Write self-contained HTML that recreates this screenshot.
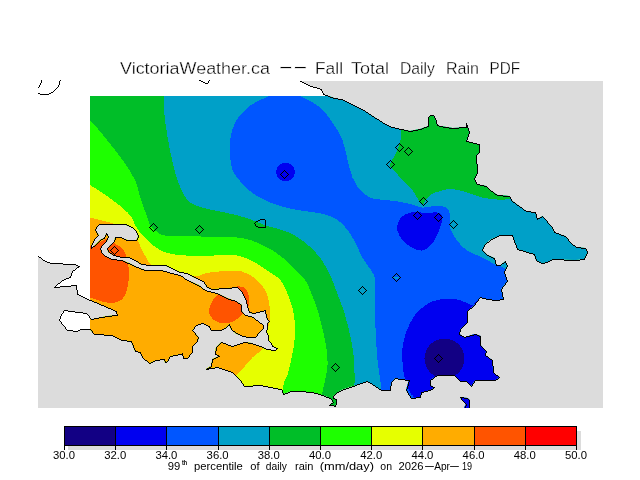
<!DOCTYPE html>
<html lang="en"><head><meta charset="utf-8"><title>VictoriaWeather.ca -- Fall Total Daily Rain PDF</title>
<style>
html,body{margin:0;padding:0;background:#fff;}
body{width:640px;height:480px;overflow:hidden;position:relative;font-family:"Liberation Sans",sans-serif;}
</style></head><body>
<svg width="640" height="480" viewBox="0 0 640 480" shape-rendering="crispEdges" style="position:absolute;left:0;top:0">
<defs><clipPath id="landclip"><polygon points="299,80 308,85.6 321,89.5 323.4,94 334.4,98 342,99.7 350,103.6 365,111 385,124 392,127.5 410,131 420,129 428.8,126 428.8,117.5 430.5,115.2 433,115.5 435,118.8 437,125.5 440,126 452.5,128 466,127.5 466,123 469,132.5 466,141 479,144.5 479.5,152.5 476,155 477.5,172.5 474,179 477.5,184.5 486,186 490,190 497.5,195 509,196 512.5,201 526,211 535,212.5 537.5,219 542.5,216 551,226 554,232.5 565,236 570,242.5 576,247 585,248 587.5,252 584,259 575,260 552.5,259 547.5,262.5 541,263 536,260 534,254 517.5,249 512.5,235 500,235.5 491,239 485,244 482.5,250 487.5,255 494.5,258 496,265 500,265.5 505.5,261 507,266 504,272.5 507,281 501,289 503,299.5 495,300.5 487.5,299 480,297.5 474,305 467.5,311 467.5,322.5 460,329 459.5,334 464,337.5 475,334 480.5,336 480.5,345 486,351 485,355 492,360 493,372.5 499,377.5 495,380 475,380 471,386 466,381 460,381 454,375 437.5,375 430,380 430,385 434,387.5 430,390 421,392.5 420,397.5 411,398 406,390 409,380 400,379 395,378 391,382.5 390,390 381,390 375,386.2 367.5,381.2 358.8,384.4 350,387 341.2,390 336.2,393.8 333,396.2 333.8,398 336.5,399.4 336.2,403.8 335,406.2 332,405 329.4,405.4 333,402 331.2,399.4 327.5,397 322.5,395 316.2,393 310,392 300,391.2 291,391 283,394 282.5,390 280,389 260,385.5 244,386 240,380 232.5,372.5 217.5,367 206,369 211,366 212.5,359 219.5,356 215,354 216,347.5 221,342.5 232.5,346.9 241.2,343.8 245,342.2 251.2,343.1 260,346.9 267.5,349.4 275,350.6 277.5,348.8 272.5,346.2 271.2,343.1 268.1,340.6 268.8,336.2 266.2,331.2 267.5,328.8 267.5,323.1 269.4,321.9 266.2,317.5 265.6,310.6 258.8,312.5 253.1,313.8 249.4,312.5 247.5,306.2 246.2,300 242.5,292.5 237.5,287 225,288 212.5,289 207.2,287.8 203.4,281.2 194,277.5 187.5,273.7 180,272 177.5,271 165,265.6 150,265.6 141.2,264.4 135,260.6 128.8,257.5 122.5,257.5 113.8,255.6 108.1,251.9 107.5,248.8 110,245.6 114.4,241.9 115,237.5 120,237.5 127.5,240 136.2,240.6 138.1,236.2 136.9,231.9 132.5,227.5 125,224.8 110,224.4 99.4,224.4 96.9,227.5 95.6,230.6 98.8,235 95,238.8 91.2,245 91.9,248.8 95,245 100,240 104.4,238 106.2,233.8 108.1,237.5 106.9,241.2 102.5,245 100.6,248.8 101.2,252.5 105,256.2 112.5,259.4 122.5,260.6 128.8,263 137.5,267.5 145,270 160,270 165,271.2 175,274.5 180,275.6 187.5,280.3 198.7,285 205.3,290.6 217.5,293.4 226.9,298.1 236.2,301.5 241.9,305 241.9,311.2 245,315 251.2,316.9 258.8,321.9 263.8,325.6 263.5,328.1 259.4,332.5 255.6,337.5 248.8,337.5 242.5,336 236.2,333.8 231.2,329.4 230,326.9 229.1,324.3 225,328.1 220.3,330.9 211.9,330.9 209,326.2 202.5,323.4 196.9,325.3 192.2,330 198.7,337.5 197.8,341.2 192.2,346.8 192.2,352.5 187.5,358 183.7,358 182.8,353.4 180,354.3 170,356 167.5,361 165,362.5 164,359.5 155,360.5 149,363 142.5,357.5 140,352.5 135,351 131,341 121,340 112.5,335.5 94,334 90,329.5 80,329.5 77.5,331 67.5,330 59,320 61,314 64,310.5 86,313 91,319.5 107.5,316 117.5,315.5 116,311 102.5,305.5 90,300 77,294 76,285 54.5,287 62.5,280 70,277 72.5,271 79,266 74,264 51,263 45,261 38,256 38,81 299,81"/><polygon points="460,397.5 467.5,398 469.5,400 469.5,408 464,408 466,404 462.5,400"/></clipPath><clipPath id="dataclip"><rect x="90" y="96" width="520" height="312"/></clipPath></defs>
<rect x="0" y="0" width="640" height="480" fill="#fff"/>
<rect x="38" y="81" width="565" height="327" fill="#dcdcdc"/>
<polygon points="299,80 308,85.6 321,89.5 323.4,94 334.4,98 342,99.7 350,103.6 365,111 385,124 392,127.5 410,131 420,129 428.8,126 428.8,117.5 430.5,115.2 433,115.5 435,118.8 437,125.5 440,126 452.5,128 466,127.5 466,123 469,132.5 466,141 479,144.5 479.5,152.5 476,155 477.5,172.5 474,179 477.5,184.5 486,186 490,190 497.5,195 509,196 512.5,201 526,211 535,212.5 537.5,219 542.5,216 551,226 554,232.5 565,236 570,242.5 576,247 585,248 587.5,252 584,259 575,260 552.5,259 547.5,262.5 541,263 536,260 534,254 517.5,249 512.5,235 500,235.5 491,239 485,244 482.5,250 487.5,255 494.5,258 496,265 500,265.5 505.5,261 507,266 504,272.5 507,281 501,289 503,299.5 495,300.5 487.5,299 480,297.5 474,305 467.5,311 467.5,322.5 460,329 459.5,334 464,337.5 475,334 480.5,336 480.5,345 486,351 485,355 492,360 493,372.5 499,377.5 495,380 475,380 471,386 466,381 460,381 454,375 437.5,375 430,380 430,385 434,387.5 430,390 421,392.5 420,397.5 411,398 406,390 409,380 400,379 395,378 391,382.5 390,390 381,390 375,386.2 367.5,381.2 358.8,384.4 350,387 341.2,390 336.2,393.8 333,396.2 333.8,398 336.5,399.4 336.2,403.8 335,406.2 332,405 329.4,405.4 333,402 331.2,399.4 327.5,397 322.5,395 316.2,393 310,392 300,391.2 291,391 283,394 282.5,390 280,389 260,385.5 244,386 240,380 232.5,372.5 217.5,367 206,369 211,366 212.5,359 219.5,356 215,354 216,347.5 221,342.5 232.5,346.9 241.2,343.8 245,342.2 251.2,343.1 260,346.9 267.5,349.4 275,350.6 277.5,348.8 272.5,346.2 271.2,343.1 268.1,340.6 268.8,336.2 266.2,331.2 267.5,328.8 267.5,323.1 269.4,321.9 266.2,317.5 265.6,310.6 258.8,312.5 253.1,313.8 249.4,312.5 247.5,306.2 246.2,300 242.5,292.5 237.5,287 225,288 212.5,289 207.2,287.8 203.4,281.2 194,277.5 187.5,273.7 180,272 177.5,271 165,265.6 150,265.6 141.2,264.4 135,260.6 128.8,257.5 122.5,257.5 113.8,255.6 108.1,251.9 107.5,248.8 110,245.6 114.4,241.9 115,237.5 120,237.5 127.5,240 136.2,240.6 138.1,236.2 136.9,231.9 132.5,227.5 125,224.8 110,224.4 99.4,224.4 96.9,227.5 95.6,230.6 98.8,235 95,238.8 91.2,245 91.9,248.8 95,245 100,240 104.4,238 106.2,233.8 108.1,237.5 106.9,241.2 102.5,245 100.6,248.8 101.2,252.5 105,256.2 112.5,259.4 122.5,260.6 128.8,263 137.5,267.5 145,270 160,270 165,271.2 175,274.5 180,275.6 187.5,280.3 198.7,285 205.3,290.6 217.5,293.4 226.9,298.1 236.2,301.5 241.9,305 241.9,311.2 245,315 251.2,316.9 258.8,321.9 263.8,325.6 263.5,328.1 259.4,332.5 255.6,337.5 248.8,337.5 242.5,336 236.2,333.8 231.2,329.4 230,326.9 229.1,324.3 225,328.1 220.3,330.9 211.9,330.9 209,326.2 202.5,323.4 196.9,325.3 192.2,330 198.7,337.5 197.8,341.2 192.2,346.8 192.2,352.5 187.5,358 183.7,358 182.8,353.4 180,354.3 170,356 167.5,361 165,362.5 164,359.5 155,360.5 149,363 142.5,357.5 140,352.5 135,351 131,341 121,340 112.5,335.5 94,334 90,329.5 80,329.5 77.5,331 67.5,330 59,320 61,314 64,310.5 86,313 91,319.5 107.5,316 117.5,315.5 116,311 102.5,305.5 90,300 77,294 76,285 54.5,287 62.5,280 70,277 72.5,271 79,266 74,264 51,263 45,261 38,256 38,81 299,81" fill="#fff" />
<g clip-path="url(#dataclip)"><g clip-path="url(#landclip)">
<rect x="80" y="86" width="540" height="330" fill="#00be28"/>
<path d="M80,113C80,113 85.8,115.9 90,120C94.2,124.1 99.6,130.8 105,137.5C110.4,144.2 117.5,152.9 122.5,160C127.5,167.1 131.9,173.3 135,180C138.1,186.7 138.9,193.8 141,200C143.1,206.2 146,213.3 147.5,217.5C149,221.7 148.5,222.7 150,225C151.5,227.3 153.8,229.5 156.2,231.2C158.8,233 159.8,234.8 165,235.6C170.2,236.4 179.6,235.8 187.5,236C195.4,236.2 205,236.8 212.5,237C220,237.2 226.2,236.5 232.5,237C238.8,237.5 244.2,238.2 250,240C255.8,241.8 262.1,244.6 267.5,247.5C272.9,250.4 277.9,253.8 282.5,257.5C287.1,261.2 291.2,266.2 295,270C298.8,273.8 302.5,276.7 305,280C307.5,283.3 307.9,285 310,290C312.1,295 315,301.7 317.5,310C320,318.3 323.3,330.8 325,340C326.7,349.2 327.9,356.2 327.5,365C327.1,373.8 323.8,384.2 322.5,392.5C321.2,400.8 320,415 320,415C320,415 80,415 80,415C80,415 80,113 80,113Z" fill="#1eff00"/>
<path d="M80,180C80,180 84.6,181.7 90,185C95.4,188.3 105.8,195 112.5,200C119.2,205 126.2,210.8 130,215C133.8,219.2 133.1,221.9 135,225C136.9,228.1 138.8,230.8 141.2,233.8C143.8,236.7 146.9,239.8 150,242.5C153.1,245.2 155.8,248 160,250C164.2,252 168.3,253.5 175,254.5C181.7,255.5 191.7,255.9 200,256C208.3,256.1 218.3,255 225,255C231.7,255 235,254.8 240,256C245,257.2 250,259.8 255,262.5C260,265.2 265.6,269.4 270,272.5C274.4,275.6 277.9,276.6 281.2,281.2C284.5,285.8 287.9,294.4 290,300C292.1,305.6 293.2,310 294,315C294.8,320 295,325 295,330C295,335 294.8,339.2 294,345C293.2,350.8 291.1,360 290,365C288.9,370 288.3,372.5 287.5,375C286.7,377.5 285.8,377.5 285,380C284.2,382.5 283.2,384.2 282.5,390C281.8,395.8 281,415 281,415C281,415 80,415 80,415C80,415 80,180 80,180Z" fill="#e6ff00"/>
<path d="M80,215C80,215 87.1,216.8 90,217.5C92.9,218.2 94.2,218.6 97.5,219.4C100.8,220.2 105.4,221.1 110,222.5C114.6,223.9 120.4,225.1 125,228C129.6,230.9 134.8,236.5 137.5,240C140.2,243.5 139.8,245.8 141.2,248.8C142.7,251.7 144.6,254.9 146.2,257.5C147.9,260.1 148.1,262.6 151.2,264.4C154.4,266.1 160.2,266.6 165,268C169.8,269.4 175,271.6 180,273C185,274.4 190.3,276.5 195,276.5C199.7,276.5 202.7,273.7 208,272.8C213.3,271.9 221.3,271.2 226.9,271C232.5,270.8 237.1,270.3 241.8,271.5C246.5,272.7 251.2,275.5 255,278.4C258.8,281.3 262,284.8 264.3,288.7C266.6,292.6 268.1,296.6 269,301.9C269.9,307.2 270.1,315.1 269.6,320.6C269.1,326.1 267.2,330.3 266,335C264.8,339.7 263.7,345.8 262.5,348.7C261.3,351.6 260.4,351 258.7,352.5C257,354 254.8,355.2 252.5,357.5C250.2,359.8 247.5,363.2 245,366C242.5,368.8 240.8,370 237.5,374C234.2,378 227.9,383.2 225,390C222.1,396.8 220,415 220,415C220,415 80,415 80,415C80,415 80,215 80,215Z" fill="#ffac00"/>
<path d="M80,246C80,246 88.7,246.7 92,246C95.3,245.3 97.7,243.2 100,242C102.3,240.8 104.3,239.3 106,239C107.7,238.7 108.7,239.3 110,240C111.3,240.7 111.9,241.8 113.8,243C115.6,244.2 119.4,245.9 121.2,247.5C123.1,249.1 124.2,250.9 125,252.5C125.8,254.1 125.8,254.9 126.2,257C126.8,259.1 127.5,262.4 128,265C128.5,267.6 129.1,268.8 129,272.5C128.9,276.2 128.6,283.1 127.5,287.5C126.4,291.9 125,296.4 122.5,299C120,301.6 116.2,302.7 112.5,303C108.8,303.3 103.8,301.9 100,301C96.2,300.1 93.3,298.3 90,297.5C86.7,296.7 80,296 80,296C80,296 80,246 80,246Z" fill="#ff5400"/>
<path d="M209,310.3C209.3,307.5 211.1,302.8 212.8,300C214.5,297.2 217.3,295.1 219.3,293.4C221.3,291.6 223.1,290.5 225,289.5C226.9,288.5 228.1,287.7 230.6,287.2C233.1,286.7 237.5,286.2 240,286.5C242.5,286.8 244.2,287.4 245.6,288.7C247,290 247.8,292.3 248.4,294.4C249.1,296.4 249.6,298.7 249.5,301C249.4,303.3 249.3,305.7 248,308C246.7,310.3 243.8,312.7 241.8,314.6C239.8,316.6 238.7,318.2 236.2,319.7C233.7,321.2 230,323 226.9,323.4C223.8,323.8 220.2,323.2 217.5,322.1C214.8,321 212.4,318.9 211,316.9C209.6,314.9 208.7,313.1 209,310.3Z" fill="#ff5400"/>
<path d="M164,86C164,86 163.8,90.3 164,96C164.2,101.7 163.8,110.2 165,120C166.2,129.8 168.9,145 171,155C173.1,165 174.8,172.5 177.5,180C180.2,187.5 183.3,195.4 187.5,200C191.7,204.6 196.2,205.4 202.5,207.5C208.8,209.6 217.9,210.8 225,212.5C232.1,214.2 237.9,215.2 245,217.5C252.1,219.8 260.3,223.6 267.5,226C274.7,228.4 281.8,229.2 288,232C294.2,234.8 299.7,238.2 305,242.5C310.3,246.8 315.8,252.1 320,257.5C324.2,262.9 327.3,269.6 330,275C332.7,280.4 333.5,283.3 336,290C338.5,296.7 342.2,305.4 345,315C347.8,324.6 350.9,337.9 352.5,347.5C354.1,357.1 354.2,366.2 354.5,372.5C354.8,378.8 354.5,377.9 354.5,385C354.5,392.1 354.5,415 354.5,415C354.5,415 620,415 620,415C620,415 620,86 620,86C620,86 164,86 164,86Z" fill="#00a0c8"/>
<path d="M401,100C381.2,105 401.2,122.9 401,130C400.8,137.1 401,138.3 400,142.5C399,146.7 396.7,151.2 395,155C393.3,158.8 390,162.3 390,165C390,167.7 393.3,168.9 395,171C396.7,173.1 398.3,175.6 400,177.5C401.7,179.4 403.3,180.8 405,182.5C406.7,184.2 408.5,185.8 410,187.5C411.5,189.2 412.3,190 414,192.5C415.7,195 418.5,200.5 420,202.5C421.5,204.5 423,204.5 423,204.5C423,204.5 426.8,197.3 430,195C433.2,192.7 438.8,191.5 442.5,190.5C446.2,189.5 448.3,188.7 452.5,189C456.7,189.3 462.5,191.1 467.5,192.5C472.5,193.9 477.5,196.3 482.5,197.5C487.5,198.7 492.9,199.2 497.5,199.5C502.1,199.8 506.2,199.6 510,199C513.8,198.4 520,196 520,196C520,196 520,100 520,100C520,100 420.8,95 401,100Z" fill="#00be28"/>
<path d="M285,88C285,88 272,90 272,90C272,90 270.4,94.7 268,96.5C265.6,98.3 261.3,98.8 257.5,101C253.7,103.2 248.8,106.4 245,110C241.2,113.6 237.5,117.5 235,122.5C232.5,127.5 230.8,134.6 230,140C229.2,145.4 229.6,150 230,155C230.4,160 230.8,165.7 232.5,170C234.2,174.3 237.1,177.5 240,181C242.9,184.5 246.2,188 250,191C253.8,194 257.5,196.5 262.5,199C267.5,201.5 274.2,204.2 280,206C285.8,207.8 291.7,208.9 297.5,210C303.3,211.1 309.6,211.5 315,212.5C320.4,213.5 325.4,214.1 330,216C334.6,217.9 338.8,220.4 342.5,224C346.2,227.6 349.2,231.9 352.5,237.5C355.8,243.1 359.2,251.7 362.5,257.5C365.8,263.3 370.4,268.8 372.5,272.5C374.6,276.2 374.6,277.1 375,280C375.4,282.9 374.9,282.1 375,290C375.1,297.9 375.1,315.8 375.5,327.5C375.9,339.2 376.6,350.2 377.5,360C378.4,369.8 380.2,376.8 381,386C381.8,395.2 382,415 382,415C382,415 520,415 520,415C520,415 520,275 520,275C520,275 511.2,271.4 508,270C504.8,268.6 503.2,267.4 501,266.5C498.8,265.6 498.1,266 495,264.5C491.9,263 487.1,259.8 482.5,257.5C477.9,255.2 471.7,253.8 467.5,251C463.3,248.2 460.4,244.9 457.5,241C454.6,237.1 451.2,231.8 450,227.5C448.8,223.2 450.7,218.3 450,215C449.3,211.7 448.5,209 446,207.5C443.5,206 438.9,206 435,206C431.1,206 426.7,207.8 422.5,207.5C418.3,207.2 414.6,205.1 410,204C405.4,202.9 400,201.8 395,201C390,200.2 384.2,200.1 380,199.5C375.8,198.9 373.3,199.1 370,197.5C366.7,195.9 362.9,193.3 360,190C357.1,186.7 354.6,182.5 352.5,177.5C350.4,172.5 349.2,166.2 347.5,160C345.8,153.8 345,146.2 342.5,140C340,133.8 336.2,127.9 332.5,122.5C328.8,117.1 324.1,111.2 320,107.5C315.9,103.8 311.2,101.8 308,100C304.8,98.2 302.8,98.2 301,96.5C299.2,94.8 297,90 297,90C297,90 285,88 285,88Z" fill="#0056ff"/>
<circle cx="285.5" cy="172" r="9.4" fill="#0000f0"/>
<path d="M397.5,225C397.9,223 398.6,220.8 400,219C401.4,217.2 403.5,215.2 406,214C408.5,212.8 411.8,212.2 415,212C418.2,211.8 421.2,212.9 425,213C428.8,213.1 434.6,212 437.5,212.5C440.4,213 441.9,213.9 442.5,216C443.1,218.1 442.1,221.4 441,225C439.9,228.6 437.8,234 436,237.5C434.2,241 432.2,243.8 430,246C427.8,248.2 425.4,250.2 422.5,250.5C419.6,250.8 415.8,249.8 412.5,248C409.2,246.2 405,242.8 402.5,240C400,237.2 398.3,233.5 397.5,231C396.7,228.5 397.1,227 397.5,225Z" fill="#0000f0"/>
<path d="M402,352.5C402.5,347.1 403.8,338.8 406,332.5C408.2,326.2 411.4,319.8 415,315C418.6,310.2 423.3,306.6 427.5,304C431.7,301.4 435,300.2 440,299.5C445,298.8 452.1,298.6 457.5,299.5C462.9,300.4 468.8,304.9 472.5,305C476.2,305.1 472.1,300.8 480,300C487.9,299.2 520,300 520,300C520,300 520,415 520,415C520,415 416,415 416,415C416,415 414.8,401.5 414,398C413.2,394.5 412.1,396 411,394C409.9,392 408.7,389.2 407.5,386C406.3,382.8 404.8,378.5 404,375C403.2,371.5 403.3,368.8 403,365C402.7,361.2 401.5,357.9 402,352.5Z" fill="#0000f0"/>
<polygon points="392,277 399,277 399,278 396.5,279.2 394,278" fill="#00a0c8" />
<circle cx="444.5" cy="358.5" r="20" fill="#120084"/>
</g></g>
<path d="M41 80h1v1h-1zM60 80h1v1h-1zM199 80h2v1h-2zM209 80h1v1h-1zM41 81h1v1h-1zM59 81h1v1h-1zM201 81h2v1h-2zM208 81h1v1h-1zM300 81h2v1h-2zM41 82h1v1h-1zM59 82h1v1h-1zM203 82h2v1h-2zM208 82h1v1h-1zM302 82h2v1h-2zM40 83h1v1h-1zM59 83h1v1h-1zM205 83h3v1h-3zM304 83h2v1h-2zM40 84h1v1h-1zM59 84h1v1h-1zM306 84h2v1h-2zM39 85h1v1h-1zM58 85h1v1h-1zM308 85h2v1h-2zM39 86h1v1h-1zM58 86h1v1h-1zM310 86h3v1h-3zM38 87h1v1h-1zM57 87h1v1h-1zM313 87h4v1h-4zM56 88h1v1h-1zM317 88h3v1h-3zM55 89h1v1h-1zM320 89h2v1h-2zM54 90h1v1h-1zM321 90h1v1h-1zM53 91h1v1h-1zM322 91h1v1h-1zM51 92h2v1h-2zM322 92h1v1h-1zM38 93h2v1h-2zM49 93h2v1h-2zM323 93h1v1h-1zM40 94h9v1h-9zM323 94h2v1h-2zM325 95h3v1h-3zM328 96h2v1h-2zM330 97h3v1h-3zM333 98h5v1h-5zM338 99h5v1h-5zM343 100h2v1h-2zM345 101h2v1h-2zM347 102h2v1h-2zM349 103h2v1h-2zM351 104h2v1h-2zM353 105h2v1h-2zM355 106h2v1h-2zM357 107h2v1h-2zM359 108h2v1h-2zM361 109h2v1h-2zM363 110h2v1h-2zM365 111h1v1h-1zM366 112h2v1h-2zM368 113h1v1h-1zM369 114h2v1h-2zM371 115h1v1h-1zM430 115h4v1h-4zM372 116h2v1h-2zM429 116h1v1h-1zM434 116h1v1h-1zM374 117h1v1h-1zM428 117h1v1h-1zM434 117h1v1h-1zM375 118h2v1h-2zM428 118h1v1h-1zM435 118h1v1h-1zM377 119h2v1h-2zM428 119h1v1h-1zM435 119h1v1h-1zM379 120h1v1h-1zM428 120h1v1h-1zM436 120h1v1h-1zM380 121h2v1h-2zM428 121h1v1h-1zM436 121h1v1h-1zM382 122h1v1h-1zM428 122h1v1h-1zM436 122h1v1h-1zM383 123h2v1h-2zM428 123h1v1h-1zM436 123h1v1h-1zM466 123h1v1h-1zM385 124h2v1h-2zM428 124h1v1h-1zM437 124h1v1h-1zM466 124h1v1h-1zM387 125h2v1h-2zM428 125h1v1h-1zM437 125h2v1h-2zM466 125h2v1h-2zM389 126h2v1h-2zM427 126h2v1h-2zM439 126h4v1h-4zM466 126h2v1h-2zM391 127h4v1h-4zM424 127h3v1h-3zM443 127h6v1h-6zM459 127h9v1h-9zM395 128h4v1h-4zM422 128h2v1h-2zM449 128h10v1h-10zM468 128h1v1h-1zM399 129h5v1h-5zM418 129h4v1h-4zM468 129h1v1h-1zM404 130h4v1h-4zM413 130h5v1h-5zM468 130h1v1h-1zM408 131h5v1h-5zM469 131h1v1h-1zM469 132h1v1h-1zM469 133h1v1h-1zM468 134h1v1h-1zM468 135h1v1h-1zM468 136h1v1h-1zM467 137h1v1h-1zM467 138h1v1h-1zM467 139h1v1h-1zM466 140h1v1h-1zM466 141h3v1h-3zM469 142h4v1h-4zM399 143h1v1h-1zM473 143h4v1h-4zM398 144h1v1h-1zM400 144h1v1h-1zM477 144h3v1h-3zM397 145h1v1h-1zM401 145h1v1h-1zM479 145h1v1h-1zM396 146h1v1h-1zM402 146h1v1h-1zM479 146h1v1h-1zM395 147h1v1h-1zM403 147h1v1h-1zM408 147h1v1h-1zM479 147h1v1h-1zM396 148h1v1h-1zM402 148h1v1h-1zM407 148h1v1h-1zM409 148h1v1h-1zM479 148h1v1h-1zM397 149h1v1h-1zM401 149h1v1h-1zM406 149h1v1h-1zM410 149h1v1h-1zM479 149h1v1h-1zM398 150h1v1h-1zM400 150h1v1h-1zM405 150h1v1h-1zM411 150h1v1h-1zM479 150h1v1h-1zM399 151h1v1h-1zM404 151h1v1h-1zM412 151h1v1h-1zM479 151h1v1h-1zM405 152h1v1h-1zM411 152h1v1h-1zM479 152h1v1h-1zM406 153h1v1h-1zM410 153h1v1h-1zM478 153h1v1h-1zM407 154h1v1h-1zM409 154h1v1h-1zM477 154h1v1h-1zM408 155h1v1h-1zM476 155h1v1h-1zM476 156h1v1h-1zM476 157h1v1h-1zM476 158h1v1h-1zM476 159h1v1h-1zM390 160h1v1h-1zM476 160h1v1h-1zM389 161h1v1h-1zM391 161h1v1h-1zM476 161h1v1h-1zM388 162h1v1h-1zM392 162h1v1h-1zM476 162h1v1h-1zM387 163h1v1h-1zM393 163h1v1h-1zM476 163h1v1h-1zM386 164h1v1h-1zM394 164h1v1h-1zM477 164h1v1h-1zM387 165h1v1h-1zM393 165h1v1h-1zM477 165h1v1h-1zM388 166h1v1h-1zM392 166h1v1h-1zM477 166h1v1h-1zM389 167h1v1h-1zM391 167h1v1h-1zM477 167h1v1h-1zM390 168h1v1h-1zM477 168h1v1h-1zM477 169h1v1h-1zM284 170h1v1h-1zM477 170h1v1h-1zM283 171h1v1h-1zM285 171h1v1h-1zM477 171h1v1h-1zM282 172h1v1h-1zM286 172h1v1h-1zM477 172h1v1h-1zM281 173h1v1h-1zM287 173h1v1h-1zM477 173h1v1h-1zM280 174h1v1h-1zM288 174h1v1h-1zM476 174h1v1h-1zM281 175h1v1h-1zM287 175h1v1h-1zM476 175h1v1h-1zM282 176h1v1h-1zM286 176h1v1h-1zM475 176h1v1h-1zM283 177h1v1h-1zM285 177h1v1h-1zM475 177h1v1h-1zM284 178h1v1h-1zM474 178h1v1h-1zM474 179h1v1h-1zM475 180h1v1h-1zM475 181h1v1h-1zM476 182h1v1h-1zM476 183h1v1h-1zM477 184h3v1h-3zM480 185h4v1h-4zM484 186h3v1h-3zM487 187h1v1h-1zM488 188h1v1h-1zM489 189h1v1h-1zM490 190h1v1h-1zM491 191h2v1h-2zM493 192h1v1h-1zM494 193h1v1h-1zM495 194h2v1h-2zM497 195h6v1h-6zM503 196h7v1h-7zM423 197h1v1h-1zM510 197h1v1h-1zM422 198h1v1h-1zM424 198h1v1h-1zM510 198h1v1h-1zM421 199h1v1h-1zM425 199h1v1h-1zM511 199h1v1h-1zM420 200h1v1h-1zM426 200h1v1h-1zM511 200h1v1h-1zM419 201h1v1h-1zM427 201h1v1h-1zM512 201h1v1h-1zM420 202h1v1h-1zM426 202h1v1h-1zM513 202h2v1h-2zM421 203h1v1h-1zM425 203h1v1h-1zM515 203h1v1h-1zM422 204h1v1h-1zM424 204h1v1h-1zM516 204h1v1h-1zM423 205h1v1h-1zM517 205h2v1h-2zM519 206h1v1h-1zM520 207h2v1h-2zM522 208h1v1h-1zM523 209h1v1h-1zM524 210h2v1h-2zM417 211h1v1h-1zM526 211h5v1h-5zM416 212h1v1h-1zM418 212h1v1h-1zM531 212h5v1h-5zM415 213h1v1h-1zM419 213h1v1h-1zM438 213h1v1h-1zM535 213h1v1h-1zM414 214h1v1h-1zM420 214h1v1h-1zM437 214h1v1h-1zM439 214h1v1h-1zM536 214h1v1h-1zM413 215h1v1h-1zM421 215h1v1h-1zM436 215h1v1h-1zM440 215h1v1h-1zM536 215h1v1h-1zM414 216h1v1h-1zM420 216h1v1h-1zM435 216h1v1h-1zM441 216h1v1h-1zM536 216h1v1h-1zM542 216h1v1h-1zM415 217h1v1h-1zM419 217h1v1h-1zM434 217h1v1h-1zM442 217h1v1h-1zM536 217h1v1h-1zM540 217h2v1h-2zM543 217h1v1h-1zM416 218h1v1h-1zM418 218h1v1h-1zM435 218h1v1h-1zM441 218h1v1h-1zM537 218h3v1h-3zM544 218h1v1h-1zM260 219h5v1h-5zM417 219h1v1h-1zM436 219h1v1h-1zM440 219h1v1h-1zM537 219h1v1h-1zM545 219h1v1h-1zM258 220h2v1h-2zM265 220h1v1h-1zM437 220h1v1h-1zM439 220h1v1h-1zM453 220h1v1h-1zM546 220h1v1h-1zM256 221h2v1h-2zM265 221h1v1h-1zM438 221h1v1h-1zM452 221h1v1h-1zM454 221h1v1h-1zM547 221h1v1h-1zM255 222h1v1h-1zM265 222h1v1h-1zM451 222h1v1h-1zM455 222h1v1h-1zM547 222h1v1h-1zM153 223h1v1h-1zM254 223h1v1h-1zM265 223h1v1h-1zM450 223h1v1h-1zM456 223h1v1h-1zM548 223h1v1h-1zM99 224h28v1h-28zM152 224h1v1h-1zM154 224h1v1h-1zM255 224h1v1h-1zM265 224h1v1h-1zM449 224h1v1h-1zM457 224h1v1h-1zM549 224h1v1h-1zM98 225h1v1h-1zM127 225h2v1h-2zM151 225h1v1h-1zM155 225h1v1h-1zM199 225h1v1h-1zM255 225h1v1h-1zM265 225h1v1h-1zM450 225h1v1h-1zM456 225h1v1h-1zM550 225h1v1h-1zM97 226h1v1h-1zM129 226h2v1h-2zM150 226h1v1h-1zM156 226h1v1h-1zM198 226h1v1h-1zM200 226h1v1h-1zM256 226h2v1h-2zM265 226h1v1h-1zM451 226h1v1h-1zM455 226h1v1h-1zM551 226h1v1h-1zM96 227h1v1h-1zM131 227h2v1h-2zM149 227h1v1h-1zM157 227h1v1h-1zM197 227h1v1h-1zM201 227h1v1h-1zM258 227h8v1h-8zM452 227h1v1h-1zM454 227h1v1h-1zM552 227h1v1h-1zM96 228h1v1h-1zM133 228h1v1h-1zM150 228h1v1h-1zM156 228h1v1h-1zM196 228h1v1h-1zM202 228h1v1h-1zM453 228h1v1h-1zM552 228h1v1h-1zM95 229h1v1h-1zM134 229h1v1h-1zM151 229h1v1h-1zM155 229h1v1h-1zM195 229h1v1h-1zM203 229h1v1h-1zM553 229h1v1h-1zM95 230h1v1h-1zM135 230h1v1h-1zM152 230h1v1h-1zM154 230h1v1h-1zM196 230h1v1h-1zM202 230h1v1h-1zM553 230h1v1h-1zM96 231h1v1h-1zM136 231h1v1h-1zM153 231h1v1h-1zM197 231h1v1h-1zM201 231h1v1h-1zM554 231h1v1h-1zM96 232h1v1h-1zM136 232h1v1h-1zM198 232h1v1h-1zM200 232h1v1h-1zM554 232h2v1h-2zM97 233h1v1h-1zM106 233h1v1h-1zM137 233h1v1h-1zM199 233h1v1h-1zM556 233h3v1h-3zM97 234h1v1h-1zM106 234h2v1h-2zM137 234h1v1h-1zM559 234h2v1h-2zM98 235h1v1h-1zM105 235h1v1h-1zM107 235h1v1h-1zM138 235h1v1h-1zM499 235h14v1h-14zM561 235h3v1h-3zM97 236h1v1h-1zM105 236h1v1h-1zM108 236h1v1h-1zM138 236h1v1h-1zM497 236h2v1h-2zM512 236h1v1h-1zM564 236h2v1h-2zM96 237h1v1h-1zM104 237h1v1h-1zM108 237h1v1h-1zM115 237h7v1h-7zM138 237h1v1h-1zM495 237h2v1h-2zM513 237h1v1h-1zM566 237h1v1h-1zM95 238h1v1h-1zM103 238h2v1h-2zM107 238h1v1h-1zM115 238h1v1h-1zM122 238h2v1h-2zM137 238h1v1h-1zM493 238h2v1h-2zM513 238h1v1h-1zM567 238h1v1h-1zM94 239h1v1h-1zM101 239h2v1h-2zM107 239h1v1h-1zM115 239h1v1h-1zM124 239h2v1h-2zM137 239h1v1h-1zM491 239h2v1h-2zM513 239h1v1h-1zM568 239h1v1h-1zM94 240h1v1h-1zM100 240h1v1h-1zM106 240h1v1h-1zM114 240h1v1h-1zM126 240h11v1h-11zM490 240h1v1h-1zM514 240h1v1h-1zM568 240h1v1h-1zM93 241h1v1h-1zM99 241h1v1h-1zM106 241h1v1h-1zM114 241h1v1h-1zM489 241h1v1h-1zM514 241h1v1h-1zM569 241h1v1h-1zM93 242h1v1h-1zM98 242h1v1h-1zM105 242h1v1h-1zM113 242h1v1h-1zM487 242h2v1h-2zM514 242h1v1h-1zM570 242h1v1h-1zM92 243h1v1h-1zM97 243h1v1h-1zM104 243h1v1h-1zM112 243h1v1h-1zM486 243h1v1h-1zM515 243h1v1h-1zM571 243h1v1h-1zM92 244h1v1h-1zM96 244h1v1h-1zM103 244h1v1h-1zM111 244h1v1h-1zM485 244h1v1h-1zM515 244h1v1h-1zM572 244h1v1h-1zM91 245h1v1h-1zM95 245h1v1h-1zM102 245h1v1h-1zM110 245h1v1h-1zM484 245h1v1h-1zM516 245h1v1h-1zM573 245h2v1h-2zM91 246h1v1h-1zM93 246h2v1h-2zM101 246h1v1h-1zM109 246h1v1h-1zM114 246h1v1h-1zM484 246h1v1h-1zM516 246h1v1h-1zM575 246h1v1h-1zM91 247h2v1h-2zM101 247h1v1h-1zM108 247h1v1h-1zM113 247h1v1h-1zM115 247h1v1h-1zM483 247h1v1h-1zM516 247h1v1h-1zM576 247h5v1h-5zM91 248h1v1h-1zM100 248h1v1h-1zM107 248h1v1h-1zM112 248h1v1h-1zM116 248h1v1h-1zM483 248h1v1h-1zM517 248h1v1h-1zM581 248h5v1h-5zM100 249h1v1h-1zM107 249h1v1h-1zM111 249h1v1h-1zM117 249h1v1h-1zM482 249h1v1h-1zM517 249h2v1h-2zM586 249h1v1h-1zM101 250h1v1h-1zM108 250h1v1h-1zM110 250h1v1h-1zM118 250h1v1h-1zM482 250h1v1h-1zM519 250h4v1h-4zM586 250h1v1h-1zM101 251h1v1h-1zM108 251h1v1h-1zM111 251h1v1h-1zM117 251h1v1h-1zM483 251h1v1h-1zM523 251h3v1h-3zM587 251h1v1h-1zM101 252h1v1h-1zM109 252h1v1h-1zM112 252h1v1h-1zM116 252h1v1h-1zM484 252h1v1h-1zM526 252h3v1h-3zM587 252h1v1h-1zM102 253h1v1h-1zM110 253h2v1h-2zM113 253h1v1h-1zM115 253h1v1h-1zM485 253h1v1h-1zM529 253h4v1h-4zM587 253h1v1h-1zM103 254h1v1h-1zM112 254h1v1h-1zM114 254h1v1h-1zM486 254h1v1h-1zM533 254h2v1h-2zM586 254h1v1h-1zM104 255h1v1h-1zM113 255h3v1h-3zM487 255h2v1h-2zM534 255h1v1h-1zM586 255h1v1h-1zM38 256h1v1h-1zM105 256h2v1h-2zM116 256h4v1h-4zM489 256h2v1h-2zM535 256h1v1h-1zM585 256h1v1h-1zM39 257h2v1h-2zM107 257h2v1h-2zM120 257h10v1h-10zM491 257h2v1h-2zM535 257h1v1h-1zM585 257h1v1h-1zM41 258h1v1h-1zM109 258h2v1h-2zM130 258h2v1h-2zM493 258h2v1h-2zM535 258h1v1h-1zM584 258h1v1h-1zM42 259h1v1h-1zM111 259h6v1h-6zM132 259h2v1h-2zM494 259h1v1h-1zM536 259h1v1h-1zM552 259h12v1h-12zM580 259h5v1h-5zM43 260h2v1h-2zM117 260h6v1h-6zM134 260h2v1h-2zM495 260h1v1h-1zM536 260h1v1h-1zM550 260h2v1h-2zM564 260h16v1h-16zM45 261h2v1h-2zM123 261h2v1h-2zM136 261h2v1h-2zM495 261h1v1h-1zM505 261h1v1h-1zM537 261h2v1h-2zM548 261h2v1h-2zM47 262h3v1h-3zM125 262h2v1h-2zM138 262h1v1h-1zM495 262h1v1h-1zM504 262h2v1h-2zM539 262h2v1h-2zM545 262h3v1h-3zM50 263h13v1h-13zM127 263h3v1h-3zM139 263h2v1h-2zM495 263h1v1h-1zM502 263h2v1h-2zM506 263h1v1h-1zM541 263h4v1h-4zM63 264h13v1h-13zM130 264h2v1h-2zM141 264h5v1h-5zM496 264h1v1h-1zM501 264h1v1h-1zM506 264h1v1h-1zM76 265h2v1h-2zM132 265h2v1h-2zM146 265h21v1h-21zM496 265h5v1h-5zM507 265h1v1h-1zM78 266h2v1h-2zM134 266h2v1h-2zM167 266h2v1h-2zM507 266h1v1h-1zM77 267h2v1h-2zM136 267h3v1h-3zM169 267h2v1h-2zM506 267h1v1h-1zM76 268h1v1h-1zM139 268h2v1h-2zM171 268h2v1h-2zM506 268h1v1h-1zM75 269h1v1h-1zM141 269h3v1h-3zM173 269h2v1h-2zM505 269h1v1h-1zM73 270h2v1h-2zM144 270h19v1h-19zM175 270h2v1h-2zM505 270h1v1h-1zM72 271h1v1h-1zM163 271h4v1h-4zM177 271h2v1h-2zM504 271h1v1h-1zM72 272h1v1h-1zM167 272h3v1h-3zM179 272h5v1h-5zM504 272h1v1h-1zM71 273h1v1h-1zM170 273h4v1h-4zM184 273h4v1h-4zM396 273h1v1h-1zM504 273h1v1h-1zM71 274h1v1h-1zM174 274h4v1h-4zM188 274h2v1h-2zM395 274h1v1h-1zM397 274h1v1h-1zM505 274h1v1h-1zM71 275h1v1h-1zM178 275h3v1h-3zM190 275h2v1h-2zM394 275h1v1h-1zM398 275h1v1h-1zM505 275h1v1h-1zM70 276h1v1h-1zM181 276h2v1h-2zM192 276h2v1h-2zM393 276h1v1h-1zM399 276h1v1h-1zM505 276h1v1h-1zM69 277h2v1h-2zM183 277h1v1h-1zM194 277h2v1h-2zM392 277h1v1h-1zM400 277h1v1h-1zM506 277h1v1h-1zM66 278h3v1h-3zM184 278h1v1h-1zM196 278h2v1h-2zM393 278h1v1h-1zM399 278h1v1h-1zM506 278h1v1h-1zM64 279h2v1h-2zM185 279h2v1h-2zM198 279h2v1h-2zM394 279h1v1h-1zM398 279h1v1h-1zM506 279h1v1h-1zM62 280h2v1h-2zM187 280h2v1h-2zM200 280h2v1h-2zM395 280h1v1h-1zM397 280h1v1h-1zM507 280h1v1h-1zM61 281h1v1h-1zM189 281h2v1h-2zM202 281h2v1h-2zM396 281h1v1h-1zM507 281h1v1h-1zM60 282h1v1h-1zM191 282h2v1h-2zM204 282h1v1h-1zM506 282h1v1h-1zM58 283h2v1h-2zM193 283h2v1h-2zM204 283h1v1h-1zM505 283h1v1h-1zM57 284h1v1h-1zM195 284h2v1h-2zM205 284h1v1h-1zM505 284h1v1h-1zM56 285h1v1h-1zM71 285h6v1h-6zM197 285h2v1h-2zM206 285h1v1h-1zM504 285h1v1h-1zM55 286h1v1h-1zM60 286h11v1h-11zM76 286h1v1h-1zM199 286h2v1h-2zM206 286h1v1h-1zM362 286h1v1h-1zM503 286h1v1h-1zM54 287h6v1h-6zM76 287h1v1h-1zM201 287h1v1h-1zM207 287h2v1h-2zM232 287h6v1h-6zM361 287h1v1h-1zM363 287h1v1h-1zM502 287h1v1h-1zM76 288h1v1h-1zM202 288h1v1h-1zM209 288h2v1h-2zM219 288h13v1h-13zM238 288h1v1h-1zM360 288h1v1h-1zM364 288h1v1h-1zM502 288h1v1h-1zM76 289h1v1h-1zM203 289h2v1h-2zM211 289h8v1h-8zM239 289h1v1h-1zM359 289h1v1h-1zM365 289h1v1h-1zM501 289h1v1h-1zM77 290h1v1h-1zM205 290h2v1h-2zM240 290h1v1h-1zM358 290h1v1h-1zM366 290h1v1h-1zM501 290h1v1h-1zM77 291h1v1h-1zM207 291h4v1h-4zM241 291h1v1h-1zM359 291h1v1h-1zM365 291h1v1h-1zM501 291h1v1h-1zM77 292h1v1h-1zM211 292h4v1h-4zM242 292h1v1h-1zM360 292h1v1h-1zM364 292h1v1h-1zM502 292h1v1h-1zM77 293h1v1h-1zM215 293h3v1h-3zM242 293h1v1h-1zM361 293h1v1h-1zM363 293h1v1h-1zM502 293h1v1h-1zM77 294h2v1h-2zM218 294h2v1h-2zM243 294h1v1h-1zM362 294h1v1h-1zM502 294h1v1h-1zM79 295h2v1h-2zM220 295h2v1h-2zM243 295h1v1h-1zM502 295h1v1h-1zM81 296h2v1h-2zM222 296h2v1h-2zM244 296h1v1h-1zM502 296h1v1h-1zM83 297h2v1h-2zM224 297h2v1h-2zM244 297h1v1h-1zM480 297h2v1h-2zM503 297h1v1h-1zM85 298h2v1h-2zM226 298h2v1h-2zM245 298h1v1h-1zM479 298h1v1h-1zM482 298h4v1h-4zM503 298h1v1h-1zM87 299h2v1h-2zM228 299h3v1h-3zM245 299h1v1h-1zM478 299h1v1h-1zM486 299h6v1h-6zM500 299h4v1h-4zM89 300h3v1h-3zM231 300h4v1h-4zM246 300h1v1h-1zM478 300h1v1h-1zM492 300h8v1h-8zM92 301h2v1h-2zM235 301h2v1h-2zM246 301h1v1h-1zM477 301h1v1h-1zM94 302h3v1h-3zM237 302h1v1h-1zM246 302h1v1h-1zM476 302h1v1h-1zM97 303h2v1h-2zM238 303h2v1h-2zM246 303h1v1h-1zM475 303h1v1h-1zM99 304h2v1h-2zM240 304h1v1h-1zM247 304h1v1h-1zM475 304h1v1h-1zM101 305h3v1h-3zM241 305h1v1h-1zM247 305h1v1h-1zM474 305h1v1h-1zM104 306h2v1h-2zM241 306h1v1h-1zM247 306h1v1h-1zM473 306h1v1h-1zM106 307h2v1h-2zM241 307h1v1h-1zM247 307h1v1h-1zM472 307h1v1h-1zM108 308h3v1h-3zM241 308h1v1h-1zM248 308h1v1h-1zM470 308h2v1h-2zM111 309h2v1h-2zM241 309h1v1h-1zM248 309h1v1h-1zM469 309h1v1h-1zM64 310h4v1h-4zM113 310h2v1h-2zM241 310h1v1h-1zM248 310h1v1h-1zM264 310h2v1h-2zM468 310h1v1h-1zM63 311h1v1h-1zM68 311h7v1h-7zM115 311h2v1h-2zM241 311h1v1h-1zM249 311h1v1h-1zM260 311h4v1h-4zM265 311h1v1h-1zM467 311h1v1h-1zM63 312h1v1h-1zM75 312h8v1h-8zM116 312h1v1h-1zM242 312h1v1h-1zM249 312h3v1h-3zM256 312h4v1h-4zM265 312h1v1h-1zM467 312h1v1h-1zM62 313h1v1h-1zM83 313h4v1h-4zM116 313h1v1h-1zM243 313h1v1h-1zM252 313h4v1h-4zM265 313h1v1h-1zM467 313h1v1h-1zM61 314h1v1h-1zM87 314h1v1h-1zM117 314h1v1h-1zM244 314h1v1h-1zM266 314h1v1h-1zM467 314h1v1h-1zM61 315h1v1h-1zM88 315h1v1h-1zM112 315h6v1h-6zM245 315h3v1h-3zM266 315h1v1h-1zM467 315h1v1h-1zM60 316h1v1h-1zM89 316h1v1h-1zM105 316h7v1h-7zM248 316h4v1h-4zM266 316h1v1h-1zM467 316h1v1h-1zM60 317h1v1h-1zM89 317h1v1h-1zM99 317h6v1h-6zM252 317h2v1h-2zM266 317h1v1h-1zM467 317h1v1h-1zM60 318h1v1h-1zM90 318h1v1h-1zM94 318h5v1h-5zM254 318h1v1h-1zM267 318h1v1h-1zM467 318h1v1h-1zM59 319h1v1h-1zM91 319h3v1h-3zM255 319h1v1h-1zM267 319h1v1h-1zM467 319h1v1h-1zM59 320h1v1h-1zM256 320h2v1h-2zM268 320h1v1h-1zM467 320h1v1h-1zM60 321h1v1h-1zM258 321h1v1h-1zM269 321h1v1h-1zM467 321h1v1h-1zM61 322h1v1h-1zM259 322h1v1h-1zM268 322h1v1h-1zM467 322h1v1h-1zM61 323h1v1h-1zM201 323h3v1h-3zM260 323h2v1h-2zM267 323h1v1h-1zM466 323h1v1h-1zM62 324h1v1h-1zM198 324h3v1h-3zM204 324h2v1h-2zM229 324h1v1h-1zM262 324h1v1h-1zM267 324h1v1h-1zM465 324h1v1h-1zM63 325h1v1h-1zM196 325h2v1h-2zM206 325h2v1h-2zM228 325h2v1h-2zM263 325h1v1h-1zM267 325h1v1h-1zM464 325h1v1h-1zM64 326h1v1h-1zM195 326h1v1h-1zM208 326h2v1h-2zM227 326h1v1h-1zM230 326h1v1h-1zM263 326h1v1h-1zM267 326h1v1h-1zM463 326h1v1h-1zM65 327h1v1h-1zM194 327h1v1h-1zM209 327h1v1h-1zM226 327h1v1h-1zM230 327h1v1h-1zM263 327h1v1h-1zM267 327h1v1h-1zM462 327h1v1h-1zM65 328h1v1h-1zM194 328h1v1h-1zM210 328h1v1h-1zM224 328h2v1h-2zM231 328h1v1h-1zM263 328h1v1h-1zM267 328h1v1h-1zM461 328h1v1h-1zM66 329h1v1h-1zM80 329h11v1h-11zM193 329h1v1h-1zM210 329h1v1h-1zM222 329h2v1h-2zM231 329h1v1h-1zM262 329h1v1h-1zM267 329h1v1h-1zM460 329h1v1h-1zM67 330h6v1h-6zM78 330h2v1h-2zM91 330h1v1h-1zM192 330h1v1h-1zM211 330h11v1h-11zM232 330h1v1h-1zM261 330h1v1h-1zM266 330h1v1h-1zM460 330h1v1h-1zM73 331h5v1h-5zM92 331h1v1h-1zM193 331h1v1h-1zM233 331h2v1h-2zM260 331h1v1h-1zM266 331h1v1h-1zM460 331h1v1h-1zM92 332h1v1h-1zM194 332h1v1h-1zM235 332h1v1h-1zM259 332h1v1h-1zM266 332h1v1h-1zM459 332h1v1h-1zM93 333h1v1h-1zM195 333h1v1h-1zM236 333h2v1h-2zM258 333h1v1h-1zM267 333h1v1h-1zM459 333h1v1h-1zM94 334h10v1h-10zM195 334h1v1h-1zM238 334h2v1h-2zM257 334h1v1h-1zM267 334h1v1h-1zM459 334h1v1h-1zM474 334h3v1h-3zM104 335h9v1h-9zM196 335h1v1h-1zM240 335h2v1h-2zM257 335h1v1h-1zM268 335h1v1h-1zM460 335h2v1h-2zM470 335h4v1h-4zM477 335h2v1h-2zM113 336h2v1h-2zM197 336h1v1h-1zM242 336h4v1h-4zM256 336h1v1h-1zM268 336h1v1h-1zM462 336h2v1h-2zM466 336h4v1h-4zM479 336h2v1h-2zM115 337h2v1h-2zM198 337h1v1h-1zM246 337h10v1h-10zM268 337h1v1h-1zM464 337h2v1h-2zM480 337h1v1h-1zM117 338h2v1h-2zM198 338h1v1h-1zM268 338h1v1h-1zM480 338h1v1h-1zM119 339h2v1h-2zM197 339h1v1h-1zM268 339h1v1h-1zM480 339h1v1h-1zM121 340h6v1h-6zM197 340h1v1h-1zM268 340h1v1h-1zM480 340h1v1h-1zM127 341h5v1h-5zM197 341h1v1h-1zM269 341h1v1h-1zM480 341h1v1h-1zM131 342h1v1h-1zM196 342h1v1h-1zM221 342h2v1h-2zM243 342h5v1h-5zM270 342h1v1h-1zM480 342h1v1h-1zM132 343h1v1h-1zM195 343h1v1h-1zM220 343h1v1h-1zM223 343h3v1h-3zM240 343h3v1h-3zM248 343h5v1h-5zM271 343h1v1h-1zM480 343h1v1h-1zM132 344h1v1h-1zM194 344h1v1h-1zM219 344h1v1h-1zM226 344h2v1h-2zM237 344h3v1h-3zM253 344h3v1h-3zM271 344h1v1h-1zM480 344h1v1h-1zM133 345h1v1h-1zM193 345h1v1h-1zM218 345h1v1h-1zM228 345h3v1h-3zM234 345h3v1h-3zM256 345h3v1h-3zM272 345h1v1h-1zM480 345h1v1h-1zM133 346h1v1h-1zM192 346h1v1h-1zM217 346h1v1h-1zM231 346h3v1h-3zM259 346h3v1h-3zM272 346h2v1h-2zM481 346h1v1h-1zM133 347h1v1h-1zM192 347h1v1h-1zM216 347h1v1h-1zM262 347h2v1h-2zM274 347h2v1h-2zM482 347h1v1h-1zM134 348h1v1h-1zM192 348h1v1h-1zM216 348h1v1h-1zM264 348h2v1h-2zM276 348h2v1h-2zM483 348h1v1h-1zM134 349h1v1h-1zM192 349h1v1h-1zM216 349h1v1h-1zM266 349h5v1h-5zM276 349h1v1h-1zM484 349h1v1h-1zM135 350h1v1h-1zM192 350h1v1h-1zM216 350h1v1h-1zM271 350h5v1h-5zM485 350h1v1h-1zM135 351h3v1h-3zM192 351h1v1h-1zM215 351h1v1h-1zM486 351h1v1h-1zM138 352h3v1h-3zM192 352h1v1h-1zM215 352h1v1h-1zM486 352h1v1h-1zM140 353h1v1h-1zM182 353h1v1h-1zM191 353h1v1h-1zM215 353h1v1h-1zM485 353h1v1h-1zM141 354h1v1h-1zM178 354h5v1h-5zM190 354h1v1h-1zM215 354h2v1h-2zM438 354h1v1h-1zM485 354h1v1h-1zM141 355h1v1h-1zM173 355h5v1h-5zM182 355h1v1h-1zM189 355h1v1h-1zM217 355h2v1h-2zM437 355h1v1h-1zM439 355h1v1h-1zM485 355h1v1h-1zM142 356h1v1h-1zM170 356h3v1h-3zM183 356h1v1h-1zM189 356h1v1h-1zM218 356h2v1h-2zM436 356h1v1h-1zM440 356h1v1h-1zM486 356h2v1h-2zM142 357h1v1h-1zM169 357h1v1h-1zM183 357h1v1h-1zM188 357h1v1h-1zM216 357h2v1h-2zM435 357h1v1h-1zM441 357h1v1h-1zM488 357h1v1h-1zM143 358h1v1h-1zM169 358h1v1h-1zM183 358h5v1h-5zM214 358h2v1h-2zM434 358h1v1h-1zM442 358h1v1h-1zM489 358h1v1h-1zM144 359h1v1h-1zM160 359h5v1h-5zM168 359h1v1h-1zM212 359h2v1h-2zM435 359h1v1h-1zM441 359h1v1h-1zM490 359h2v1h-2zM145 360h2v1h-2zM155 360h5v1h-5zM164 360h1v1h-1zM168 360h1v1h-1zM212 360h1v1h-1zM436 360h1v1h-1zM440 360h1v1h-1zM492 360h1v1h-1zM147 361h1v1h-1zM153 361h2v1h-2zM165 361h1v1h-1zM167 361h1v1h-1zM212 361h1v1h-1zM437 361h1v1h-1zM439 361h1v1h-1zM492 361h1v1h-1zM148 362h1v1h-1zM151 362h2v1h-2zM165 362h2v1h-2zM212 362h1v1h-1zM438 362h1v1h-1zM492 362h1v1h-1zM149 363h2v1h-2zM211 363h1v1h-1zM335 363h1v1h-1zM492 363h1v1h-1zM211 364h1v1h-1zM334 364h1v1h-1zM336 364h1v1h-1zM492 364h1v1h-1zM211 365h1v1h-1zM333 365h1v1h-1zM337 365h1v1h-1zM492 365h1v1h-1zM211 366h1v1h-1zM332 366h1v1h-1zM338 366h1v1h-1zM493 366h1v1h-1zM209 367h2v1h-2zM215 367h4v1h-4zM331 367h1v1h-1zM339 367h1v1h-1zM493 367h1v1h-1zM207 368h8v1h-8zM219 368h3v1h-3zM332 368h1v1h-1zM338 368h1v1h-1zM493 368h1v1h-1zM206 369h3v1h-3zM222 369h3v1h-3zM333 369h1v1h-1zM337 369h1v1h-1zM493 369h1v1h-1zM225 370h3v1h-3zM334 370h1v1h-1zM336 370h1v1h-1zM493 370h1v1h-1zM228 371h3v1h-3zM335 371h1v1h-1zM493 371h1v1h-1zM231 372h2v1h-2zM493 372h1v1h-1zM233 373h1v1h-1zM494 373h1v1h-1zM234 374h1v1h-1zM495 374h1v1h-1zM235 375h1v1h-1zM437 375h18v1h-18zM496 375h2v1h-2zM236 376h1v1h-1zM435 376h2v1h-2zM455 376h1v1h-1zM498 376h1v1h-1zM237 377h1v1h-1zM434 377h1v1h-1zM456 377h1v1h-1zM499 377h1v1h-1zM238 378h1v1h-1zM395 378h3v1h-3zM433 378h1v1h-1zM457 378h1v1h-1zM498 378h1v1h-1zM239 379h1v1h-1zM394 379h1v1h-1zM398 379h7v1h-7zM431 379h2v1h-2zM458 379h1v1h-1zM496 379h2v1h-2zM240 380h1v1h-1zM393 380h1v1h-1zM405 380h5v1h-5zM430 380h1v1h-1zM459 380h1v1h-1zM475 380h21v1h-21zM241 381h1v1h-1zM366 381h2v1h-2zM392 381h1v1h-1zM409 381h1v1h-1zM430 381h1v1h-1zM460 381h7v1h-7zM474 381h1v1h-1zM241 382h1v1h-1zM363 382h3v1h-3zM368 382h2v1h-2zM391 382h1v1h-1zM408 382h1v1h-1zM430 382h1v1h-1zM467 382h1v1h-1zM474 382h1v1h-1zM242 383h1v1h-1zM360 383h3v1h-3zM370 383h2v1h-2zM391 383h1v1h-1zM408 383h1v1h-1zM430 383h1v1h-1zM468 383h1v1h-1zM473 383h1v1h-1zM243 384h1v1h-1zM357 384h3v1h-3zM372 384h1v1h-1zM391 384h1v1h-1zM408 384h1v1h-1zM430 384h1v1h-1zM469 384h1v1h-1zM472 384h1v1h-1zM243 385h1v1h-1zM253 385h10v1h-10zM355 385h2v1h-2zM373 385h2v1h-2zM391 385h1v1h-1zM408 385h1v1h-1zM430 385h1v1h-1zM470 385h1v1h-1zM472 385h1v1h-1zM244 386h9v1h-9zM263 386h5v1h-5zM352 386h3v1h-3zM375 386h1v1h-1zM390 386h1v1h-1zM407 386h1v1h-1zM431 386h2v1h-2zM471 386h1v1h-1zM268 387h5v1h-5zM349 387h3v1h-3zM376 387h2v1h-2zM390 387h1v1h-1zM407 387h1v1h-1zM433 387h2v1h-2zM273 388h5v1h-5zM346 388h3v1h-3zM378 388h1v1h-1zM390 388h1v1h-1zM407 388h1v1h-1zM433 388h1v1h-1zM278 389h4v1h-4zM343 389h3v1h-3zM379 389h2v1h-2zM390 389h1v1h-1zM406 389h1v1h-1zM431 389h2v1h-2zM282 390h1v1h-1zM341 390h2v1h-2zM381 390h10v1h-10zM406 390h1v1h-1zM428 390h3v1h-3zM282 391h1v1h-1zM290 391h16v1h-16zM339 391h2v1h-2zM407 391h1v1h-1zM424 391h4v1h-4zM282 392h1v1h-1zM288 392h2v1h-2zM306 392h8v1h-8zM337 392h2v1h-2zM407 392h1v1h-1zM421 392h3v1h-3zM283 393h1v1h-1zM285 393h3v1h-3zM314 393h4v1h-4zM336 393h1v1h-1zM408 393h1v1h-1zM421 393h1v1h-1zM283 394h2v1h-2zM318 394h3v1h-3zM335 394h1v1h-1zM408 394h1v1h-1zM421 394h1v1h-1zM321 395h3v1h-3zM334 395h1v1h-1zM409 395h1v1h-1zM420 395h1v1h-1zM324 396h2v1h-2zM333 396h1v1h-1zM410 396h1v1h-1zM420 396h1v1h-1zM326 397h3v1h-3zM333 397h1v1h-1zM410 397h1v1h-1zM416 397h5v1h-5zM460 397h4v1h-4zM329 398h2v1h-2zM333 398h2v1h-2zM411 398h5v1h-5zM461 398h1v1h-1zM464 398h4v1h-4zM331 399h1v1h-1zM335 399h2v1h-2zM461 399h1v1h-1zM468 399h1v1h-1zM332 400h1v1h-1zM336 400h1v1h-1zM462 400h1v1h-1zM469 400h1v1h-1zM332 401h1v1h-1zM336 401h1v1h-1zM463 401h1v1h-1zM469 401h1v1h-1zM333 402h1v1h-1zM336 402h1v1h-1zM464 402h1v1h-1zM469 402h1v1h-1zM331 403h2v1h-2zM336 403h1v1h-1zM465 403h1v1h-1zM469 403h1v1h-1zM330 404h1v1h-1zM336 404h1v1h-1zM466 404h1v1h-1zM469 404h1v1h-1zM329 405h5v1h-5zM335 405h1v1h-1zM466 405h1v1h-1zM469 405h1v1h-1zM334 406h2v1h-2zM465 406h1v1h-1zM469 406h1v1h-1zM465 407h1v1h-1zM469 407h1v1h-1z" fill="#000"/>
<rect x="68" y="431" width="513" height="19" fill="#dcdcdc"/>
<rect x="64" y="426" width="52" height="19" fill="#120084"/>
<rect x="115" y="426" width="52" height="19" fill="#0000f0"/>
<rect x="166" y="426" width="53" height="19" fill="#0056ff"/>
<rect x="218" y="426" width="52" height="19" fill="#00a0c8"/>
<rect x="269" y="426" width="52" height="19" fill="#00be28"/>
<rect x="320" y="426" width="52" height="19" fill="#1eff00"/>
<rect x="371" y="426" width="52" height="19" fill="#e6ff00"/>
<rect x="422" y="426" width="53" height="19" fill="#ffac00"/>
<rect x="474" y="426" width="52" height="19" fill="#ff5400"/>
<rect x="525" y="426" width="52" height="19" fill="#ff0000"/>
<path d="M64 426h513v1h-513zM64 445h513v1h-513zM64 426h1v24h-1zM115 426h1v24h-1zM166 426h1v24h-1zM218 426h1v24h-1zM269 426h1v24h-1zM320 426h1v24h-1zM371 426h1v24h-1zM422 426h1v24h-1zM474 426h1v24h-1zM525 426h1v24h-1zM576 426h1v24h-1z" fill="#000"/>
<g font-family="&quot;Liberation Sans&quot;, sans-serif" fill="#000" stroke="#fff" stroke-width="0" shape-rendering="auto">
<text x="120" y="74" font-size="16.8" textLength="150" lengthAdjust="spacingAndGlyphs" stroke-width="0.3">VictoriaWeather.ca</text> <text transform="translate(277.91,72.49) scale(2.804,1)" font-size="16.8" stroke-width="0.3">-</text><text transform="translate(292.51,72.49) scale(2.804,1)" font-size="16.8" stroke-width="0.3">-</text> <text x="315" y="74" font-size="16.8" textLength="28" lengthAdjust="spacingAndGlyphs" stroke-width="0.3">Fall</text> <text x="351" y="74" font-size="16.8" textLength="38" lengthAdjust="spacingAndGlyphs" stroke-width="0.3">Total</text> <text x="400" y="74" font-size="16.8" textLength="35" lengthAdjust="spacingAndGlyphs" stroke-width="0.3">Daily</text> <text x="446" y="74" font-size="16.8" textLength="33" lengthAdjust="spacingAndGlyphs" stroke-width="0.3">Rain</text> <text x="489.5" y="74" font-size="16.8" textLength="30.5" lengthAdjust="spacingAndGlyphs" stroke-width="0.3">PDF</text>
<text x="53" y="459" font-size="11" textLength="22" lengthAdjust="spacingAndGlyphs">30.0</text> <text x="104.2" y="459" font-size="11" textLength="22" lengthAdjust="spacingAndGlyphs">32.0</text> <text x="155.4" y="459" font-size="11" textLength="22" lengthAdjust="spacingAndGlyphs">34.0</text> <text x="206.6" y="459" font-size="11" textLength="22" lengthAdjust="spacingAndGlyphs">36.0</text> <text x="257.8" y="459" font-size="11" textLength="22" lengthAdjust="spacingAndGlyphs">38.0</text> <text x="309" y="459" font-size="11" textLength="22" lengthAdjust="spacingAndGlyphs">40.0</text> <text x="360.2" y="459" font-size="11" textLength="22" lengthAdjust="spacingAndGlyphs">42.0</text> <text x="411.4" y="459" font-size="11" textLength="22" lengthAdjust="spacingAndGlyphs">44.0</text> <text x="462.6" y="459" font-size="11" textLength="22" lengthAdjust="spacingAndGlyphs">46.0</text> <text x="513.8" y="459" font-size="11" textLength="22" lengthAdjust="spacingAndGlyphs">48.0</text> <text x="565" y="459" font-size="11" textLength="22" lengthAdjust="spacingAndGlyphs">50.0</text>
<text x="167.8" y="470" font-size="11" textLength="12.5" lengthAdjust="spacingAndGlyphs">99</text><text x="181.9" y="465" font-size="7" textLength="5.2" lengthAdjust="spacingAndGlyphs" font-weight="bold">th</text> <text x="194" y="470" font-size="11" textLength="48.8" lengthAdjust="spacingAndGlyphs">percentile</text> <text x="250.2" y="470" font-size="11" textLength="9.3" lengthAdjust="spacingAndGlyphs">of</text> <text x="265.8" y="470" font-size="11" textLength="21.1" lengthAdjust="spacingAndGlyphs">daily</text> <text x="295" y="470" font-size="11" textLength="18.4" lengthAdjust="spacingAndGlyphs">rain</text> <text x="319.7" y="470" font-size="11" textLength="54.3" lengthAdjust="spacingAndGlyphs">(mm/day)</text> <text x="380.3" y="470" font-size="11" textLength="11.7" lengthAdjust="spacingAndGlyphs">on</text> <text x="398.6" y="470" font-size="11" textLength="25" lengthAdjust="spacingAndGlyphs">2026</text><text transform="translate(423.41,469.01) scale(3.259,1)" font-size="11">-</text><text x="434.2" y="470" font-size="11" textLength="15.8" lengthAdjust="spacingAndGlyphs">Apr</text><text transform="translate(448.41,469.01) scale(3.259,1)" font-size="11">-</text><text x="461.9" y="470" font-size="11" textLength="10.1" lengthAdjust="spacingAndGlyphs">19</text>
</g>
</svg>
</body></html>
